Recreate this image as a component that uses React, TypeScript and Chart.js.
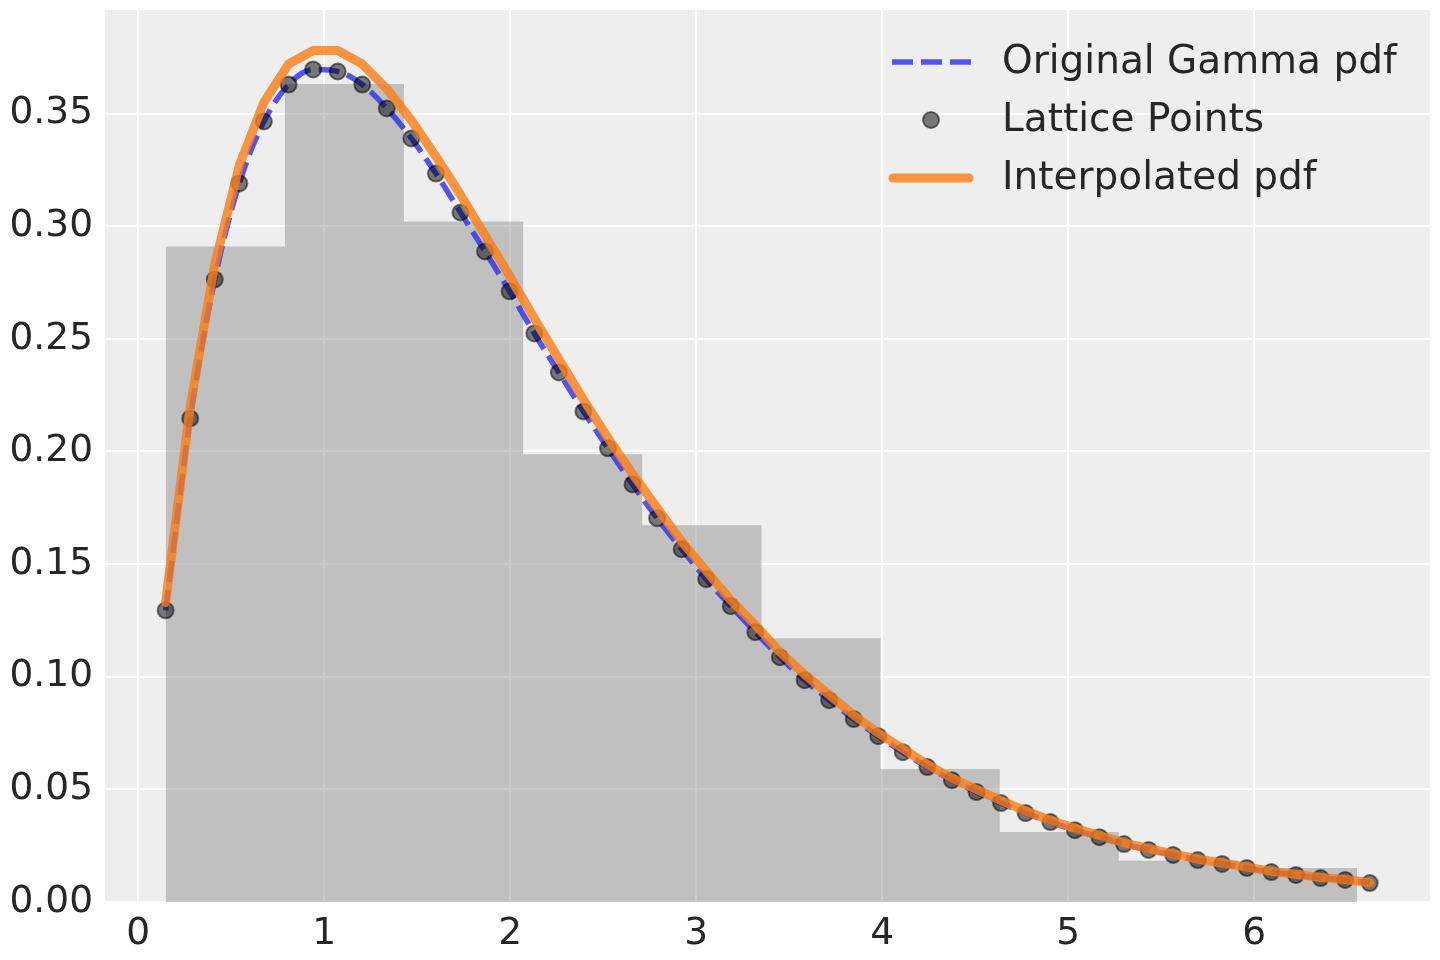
import { useEffect, useRef } from 'react'
import { Chart, registerables, type ChartOptions } from 'chart.js'

Chart.register(...registerables)

// lattice x positions and pdf values
const LATTICE_X = [
  0.148, 0.28, 0.412, 0.544, 0.676, 0.809, 0.941, 1.073, 1.205, 1.337,
  1.469, 1.601, 1.733, 1.865, 1.997, 2.13, 2.262, 2.394, 2.526, 2.658,
  2.79, 2.922, 3.054, 3.186, 3.318, 3.45, 3.583, 3.715, 3.847, 3.979,
  4.111, 4.243, 4.375, 4.507, 4.639, 4.771, 4.904, 5.036, 5.168, 5.3,
  5.432, 5.564, 5.696, 5.828, 5.96, 6.092, 6.224, 6.357, 6.489, 6.621,
]
const LATTICE_PDF = [
  0.1295, 0.2147, 0.2764, 0.319, 0.3465, 0.3629, 0.3696, 0.3687, 0.3629, 0.3523,
  0.339, 0.3234, 0.3061, 0.2888, 0.2711, 0.2524, 0.2351, 0.2178, 0.2014, 0.1854,
  0.1704, 0.1566, 0.1433, 0.1313, 0.1198, 0.1087, 0.0985, 0.0896, 0.0812, 0.0736,
  0.0665, 0.0599, 0.0541, 0.0488, 0.0439, 0.0395, 0.0355, 0.0319, 0.0288, 0.0257,
  0.0231, 0.0209, 0.0186, 0.0169, 0.0151, 0.0133, 0.012, 0.0106, 0.0098, 0.0084,
]
const INTERP_PDF = [
  0.133, 0.22, 0.283, 0.327, 0.355, 0.372, 0.378, 0.378, 0.372, 0.361,
  0.347, 0.331, 0.314, 0.296, 0.278, 0.259, 0.241, 0.223, 0.206, 0.19,
  0.175, 0.16, 0.147, 0.134, 0.123, 0.111, 0.101, 0.092, 0.083, 0.075,
  0.068, 0.061, 0.055, 0.05, 0.045, 0.0404, 0.0363, 0.0327, 0.0295, 0.0263,
  0.0237, 0.0214, 0.019, 0.0173, 0.0155, 0.0136, 0.0123, 0.0109, 0.01, 0.0086,
]

// histogram of samples (density)
const BIN_EDGES = [0.148, 0.789, 1.429, 2.07, 2.71, 3.351, 3.991, 4.632, 5.272, 5.913, 6.553]
const BIN_DENSITY = [0.291, 0.3632, 0.3021, 0.1988, 0.1673, 0.1171, 0.059, 0.0311, 0.0183, 0.0151]

const X_TICKS = [0, 1, 2, 3, 4, 5, 6]
const Y_TICKS = [0, 0.05, 0.1, 0.15, 0.2, 0.25, 0.3, 0.35]

const LEGEND_LABELS = ['Original Gamma pdf', 'Lattice Points', 'Interpolated pdf']

const BLUE = 'rgba(42, 46, 236, 0.8)'
const ORANGE = 'rgba(250, 124, 23, 0.8)'
const DOT = 'rgba(0, 0, 0, 0.5)'
const TEXT = '#262626'
const FONT = '"DejaVu Sans", sans-serif'

const panelBackground = {
  id: 'panelBackground',
  beforeDraw(chart: Chart) {
    const { ctx, chartArea } = chart
    ctx.save()
    ctx.fillStyle = '#eeeeee'
    ctx.fillRect(chartArea.left, chartArea.top, chartArea.right - chartArea.left, chartArea.bottom - chartArea.top)
    ctx.restore()
  },
}

const mplLegend = {
  id: 'mplLegend',
  afterDraw(chart: Chart) {
    const { ctx } = chart
    const rows = [62, 120, 178]
    ctx.save()
    // dashed line
    ctx.strokeStyle = BLUE
    ctx.lineWidth = 5.5
    ctx.setLineDash([21, 8])
    ctx.beginPath()
    ctx.moveTo(892, rows[0])
    ctx.lineTo(971, rows[0])
    ctx.stroke()
    ctx.setLineDash([])
    // marker
    ctx.beginPath()
    ctx.arc(931, rows[1], 8, 0, Math.PI * 2)
    ctx.fillStyle = DOT
    ctx.fill()
    ctx.lineWidth = 2
    ctx.strokeStyle = DOT
    ctx.stroke()
    // solid line
    ctx.strokeStyle = ORANGE
    ctx.lineWidth = 9
    ctx.lineCap = 'round'
    ctx.beginPath()
    ctx.moveTo(893, rows[2])
    ctx.lineTo(969, rows[2])
    ctx.stroke()
    // labels
    ctx.fillStyle = TEXT
    ctx.font = `39px ${FONT}`
    ctx.textBaseline = 'alphabetic'
    ctx.textAlign = 'left'
    LEGEND_LABELS.forEach((label, i) => ctx.fillText(label, 1002, rows[i] + 11))
    ctx.restore()
  },
}

const CHART_OPTIONS: ChartOptions<'line'> = {
  responsive: false,
  animation: false,
  devicePixelRatio: 1,
  layout: { padding: { top: 8, right: 8, bottom: 0, left: 0 } },
  plugins: {
    legend: { display: false },
    tooltip: { enabled: false },
  },
  scales: {
    x: {
      type: 'linear',
      min: -0.178,
      max: 6.945,
      afterBuildTicks: (scale) => {
        scale.ticks = X_TICKS.map((value) => ({ value }))
      },
      afterFit: (scale) => {
        scale.height = 58
        scale.paddingLeft = 0
        scale.paddingRight = 0
      },
      grid: { color: '#ffffff', lineWidth: 2, drawTicks: false },
      border: { display: false },
      ticks: {
        color: TEXT,
        padding: 10,
        maxRotation: 0,
        font: { family: FONT, size: 37.5 },
        callback: (v) => String(v),
      },
    },
    y: {
      type: 'linear',
      min: 0,
      max: 0.396,
      afterBuildTicks: (scale) => {
        scale.ticks = Y_TICKS.map((value) => ({ value }))
      },
      afterFit: (scale) => {
        scale.width = 105
        scale.paddingTop = 0
        scale.paddingBottom = 0
      },
      grid: { color: '#ffffff', lineWidth: 2, drawTicks: false },
      border: { display: false },
      ticks: {
        color: TEXT,
        padding: 12,
        font: { family: FONT, size: 37.5 },
        callback: (v) => Number(v).toFixed(2),
      },
    },
  },
}

export default function App() {
  const canvasRef = useRef<HTMLCanvasElement>(null)

  useEffect(() => {
    const canvas = canvasRef.current
    if (!canvas) return

    const lattice = LATTICE_X.map((x, i) => ({ x, y: LATTICE_PDF[i] }))
    const interp = LATTICE_X.map((x, i) => ({ x, y: INTERP_PDF[i] }))
    const hist = BIN_EDGES.map((x, i) => ({ x, y: BIN_DENSITY[Math.min(i, BIN_DENSITY.length - 1)] }))

    const chart = new Chart(canvas, {
      type: 'line',
      data: {
        datasets: [
          {
            label: 'Interpolated pdf',
            data: interp,
            borderColor: ORANGE,
            borderWidth: 9,
            borderCapStyle: 'round',
            borderJoinStyle: 'round',
            pointRadius: 0,
            tension: 0,
            fill: false,
            order: 0,
          },
          {
            label: 'Lattice Points',
            data: lattice,
            showLine: false,
            pointRadius: 8,
            pointBorderWidth: 2,
            pointBackgroundColor: DOT,
            pointBorderColor: DOT,
            order: 1,
          },
          {
            label: 'Original Gamma pdf',
            data: lattice,
            borderColor: BLUE,
            borderWidth: 5.5,
            borderDash: [21, 8],
            cubicInterpolationMode: 'monotone',
            pointRadius: 0,
            fill: false,
            order: 2,
          },
          {
            label: 'samples',
            data: hist,
            stepped: true,
            borderColor: 'transparent',
            borderWidth: 0,
            backgroundColor: 'rgba(128, 128, 128, 0.42)',
            fill: 'origin',
            pointRadius: 0,
            order: 3,
          },
        ],
      },
      options: CHART_OPTIONS,
      plugins: [panelBackground, mplLegend],
    })

    return () => {
      chart.destroy()
    }
  }, [])

  return (
    <div style={{ position: 'absolute', left: 0, top: 0, width: 1440, height: 960, background: '#ffffff' }}>
      <canvas ref={canvasRef} width={1440} height={960} style={{ width: 1440, height: 960 }} />
    </div>
  )
}
